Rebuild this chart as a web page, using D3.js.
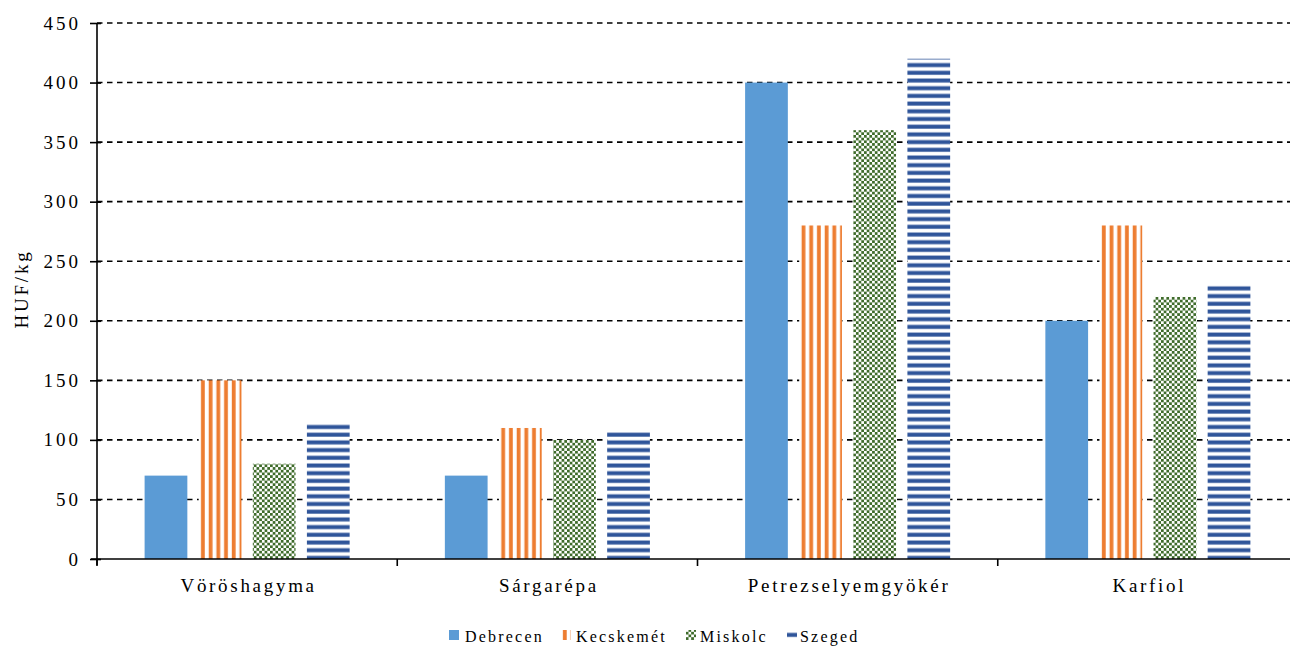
<!DOCTYPE html>
<html><head><meta charset="utf-8">
<script src="https://cdn.jsdelivr.net/npm/d3@7"></script>
<style>
body{margin:0;background:#fff;}
text{font-family:"Liberation Serif","Times New Roman",serif;fill:#000;}
</style></head>
<body><svg id="chart" width="1290" height="646"></svg>
<script>
const categories = ["Vöröshagyma","Sárgarépa","Petrezselyemgyökér","Karfiol"];
const seriesNames = ["Debrecen","Kecskemét","Miskolc","Szeged"];
const debrecen = [70,70,400,200];
const kecskemet = [150,110,280,280];
const miskolc = [80,100,360,220];
const szeged = [115,107,420,230];
const seriesValues = [debrecen,kecskemet,miskolc,szeged];
const yTicks = [0,50,100,150,200,250,300,350,400,450];

const svg = d3.select("#chart");
const defs = svg.append("defs");
const pv = defs.append("pattern").attr("id","pVert").attr("patternUnits","userSpaceOnUse").attr("width",7.7).attr("height",10);
pv.append("rect").attr("width",7.7).attr("height",10).attr("fill","#fff");
pv.append("rect").attr("x",0.8).attr("width",3.8).attr("height",10).attr("fill","#ED7D31");
const pc = defs.append("pattern").attr("id","pCheck").attr("patternUnits","userSpaceOnUse").attr("width",5.4).attr("height",5.4);
pc.append("rect").attr("width",5.4).attr("height",5.4).attr("fill","#fff");
pc.append("rect").attr("width",2.7).attr("height",2.7).attr("fill","#3E6B2A");
pc.append("rect").attr("x",2.7).attr("y",2.7).attr("width",2.7).attr("height",2.7).attr("fill","#3E6B2A");
const ph = defs.append("pattern").attr("id","pHor").attr("patternUnits","userSpaceOnUse").attr("width",10).attr("height",7.7);
ph.append("rect").attr("width",10).attr("height",7.7).attr("fill","#fff");
ph.append("rect").attr("y",1.5).attr("width",10).attr("height",4).attr("fill","#2F559A");
const fills = ["#5B9BD5","url(#pVert)","url(#pCheck)","url(#pHor)"];

const x0 = d3.scaleBand().domain(categories).range([97,1298]);
const x1 = d3.scaleBand().domain(seriesNames).range([0,x0.bandwidth()]).paddingInner(0.21).paddingOuter(0.88);
const y = d3.scaleLinear().domain([0,450]).range([559,23]);

svg.append("g").selectAll("line").data(yTicks.filter(d=>d>0)).join("line")
  .attr("x1",97).attr("x2",1290).attr("y1",d=>y(d)).attr("y2",d=>y(d))
  .attr("stroke","#000").attr("stroke-width",1.6).attr("stroke-dasharray","5.5,4.5");

const g = svg.append("g");
categories.forEach((c,ci)=>{
  seriesNames.forEach((s,si)=>{
    const v = seriesValues[si][ci];
    g.append("rect").attr("x",x0(c)+x1(s)).attr("y",y(v))
      .attr("width",x1.bandwidth()).attr("height",y(0)-y(v))
      .attr("fill",fills[si]);
  });
});

const yAxis = d3.axisLeft(y).tickValues(yTicks).tickSize(7).tickPadding(9).tickFormat(d3.format("d"));
const ya = svg.append("g").attr("transform","translate(97,0)").call(yAxis);
ya.attr("font-family",null).attr("font-size",null);
ya.select(".domain").remove();
ya.append("line").attr("x1",0).attr("x2",0).attr("y1",23).attr("y2",565).attr("stroke","#000").attr("stroke-width",1.6);
ya.selectAll(".tick line").attr("stroke","#000").attr("stroke-width",1.6).attr("x2",4).attr("x1",-7);
ya.selectAll(".tick text").attr("font-size",19).attr("letter-spacing",3).attr("fill","#000");

svg.append("line").attr("x1",91).attr("x2",1290).attr("y1",559).attr("y2",559).attr("stroke","#000").attr("stroke-width",1.6);
const catTicks = categories.map(c=>x0(c)).concat([x0.range()[1]]);
svg.append("g").selectAll("line").data(catTicks).join("line")
  .attr("x1",d=>d).attr("x2",d=>d).attr("y1",559).attr("y2",566).attr("stroke","#000").attr("stroke-width",1.6);
svg.append("g").selectAll("text").data(categories).join("text")
  .attr("x",d=>x0(d)+x0.bandwidth()/2+1.5).attr("y",592).attr("text-anchor","middle")
  .attr("font-size",19).attr("letter-spacing",2.7).text(d=>d);

svg.append("text").attr("transform","translate(28,289) rotate(-90)").attr("text-anchor","middle")
  .attr("font-size",19).attr("letter-spacing",2.8).text("HUF/kg");

const legX = [449,561,686,787];
const lg = svg.append("g");
seriesNames.forEach((s,i)=>{
  lg.append("rect").attr("x",legX[i]).attr("y",630).attr("width",10).attr("height",10).attr("fill",fills[i]);
  lg.append("text").attr("x",legX[i]+(i===0?16:i===1?15:i===2?14:13)).attr("y",642).attr("font-size",16).attr("letter-spacing",2.2).text(s);
});
</script></body></html>
